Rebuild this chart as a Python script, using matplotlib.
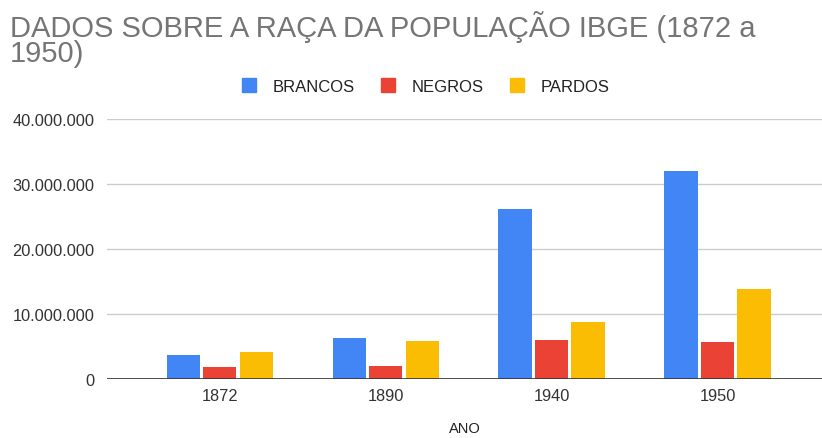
import matplotlib.pyplot as plt
import numpy as np
from matplotlib.ticker import FuncFormatter
from matplotlib.lines import Line2D

plt.rcParams['font.family'] = ['Liberation Sans', 'DejaVu Sans']

# dados (populacao por raca, IBGE)
anos = ['1872', '1890', '1940', '1950']
brancos = [3787000, 6302000, 26171000, 32027000]
negros = [1854000, 2097000, 6035000, 5692000]
pardos = [4188000, 5934000, 8744000, 13786000]

series = ['BRANCOS', 'NEGROS', 'PARDOS']
cores = ['#4285F4', '#EA4335', '#FBBC04']

fig = plt.figure(figsize=(8.22, 4.39), dpi=100)
ax = fig.add_axes([0.130, 0.134, 0.870, 0.593])

x = np.arange(len(anos))
largura = 0.2
passo = 0.22
for i, (valores, cor) in enumerate(zip([brancos, negros, pardos], cores)):
    ax.bar(x + (i - 1) * passo, valores, largura, color=cor, zorder=3)

ax.set_xlim(-0.68, 3.63)
ax.set_ylim(0, 40000000)
ax.set_yticks([0, 10000000, 20000000, 30000000, 40000000])
ax.yaxis.set_major_formatter(FuncFormatter(lambda v, p: f'{int(v):,}'.replace(',', '.')))
ax.set_xticks(x)
ax.set_xticklabels(anos)
ax.grid(axis='y', color='#cccccc', linewidth=1, zorder=0)
ax.axhline(0, color='#333333', linewidth=1.2, zorder=4)
for s in ax.spines.values():
    s.set_visible(False)
ax.tick_params(axis='both', length=0, labelsize=11.8, colors='#333333')
ax.tick_params(axis='y', pad=9)
ax.tick_params(axis='x', pad=6)
ax.set_xlabel('ANO', fontsize=10.5, color='#222222', labelpad=13)

fig.text(0.012, 0.976, 'DADOS SOBRE A RAÇA DA POPULAÇÃO IBGE (1872 a\n1950)',
         fontsize=21, color='#757575', va='top', ha='left', linespacing=0.9)

handles = [Line2D([0], [0], marker='s', linestyle='none', markersize=10.5,
                  markerfacecolor=c, markeredgecolor=c) for c in cores]
fig.legend(handles, series, loc='center', bbox_to_anchor=(0.512, 0.80), ncol=3,
           frameon=False, fontsize=12, handletextpad=0.4, columnspacing=1.0,
           labelcolor='#222222')

fig.savefig('out.png', dpi=100)
